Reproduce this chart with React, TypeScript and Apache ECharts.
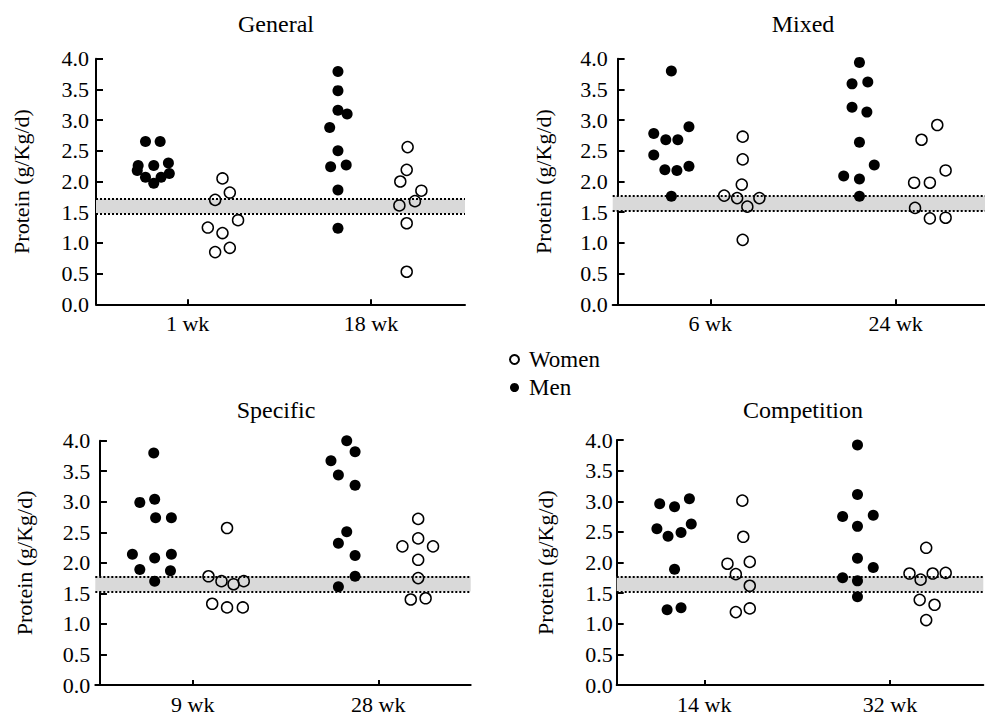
import React, { useEffect, useRef } from 'react';
import * as echarts from 'echarts';

const FONT = 'Liberation Serif';

const panelTitles = ['General', 'Mixed', 'Specific', 'Competition'];
const timeLabels = [
  ['1 wk', '18 wk'],
  ['6 wk', '24 wk'],
  ['9 wk', '28 wk'],
  ['14 wk', '32 wk'],
];
const yAxisName = 'Protein (g/Kg/d)';
const legendNames = ['Women', 'Men'];
const bandLow = [1.48, 1.52, 1.53, 1.53];
const bandHigh = [1.72, 1.76, 1.78, 1.77];

// [x position within the group, protein g/Kg/d]
const generalMen = [
  [0.54, 2.65], [0.70, 2.65], [0.46, 2.26], [0.45, 2.18], [0.63, 2.26], [0.79, 2.30], [0.80, 2.13], [0.54, 2.07], [0.71, 2.07], [0.63, 1.97],
  [2.64, 3.79], [2.64, 3.48], [2.64, 3.16], [2.74, 3.10], [2.55, 2.88], [2.64, 2.50], [2.56, 2.24], [2.73, 2.27], [2.64, 1.86], [2.64, 1.24],
];
const generalWomen = [
  [1.38, 2.05], [1.46, 1.82], [1.30, 1.70], [1.55, 1.37], [1.22, 1.25], [1.38, 1.16], [1.46, 0.92], [1.30, 0.85],
  [3.40, 2.56], [3.39, 2.19], [3.32, 2.00], [3.55, 1.85], [3.48, 1.68], [3.31, 1.61], [3.39, 1.32], [3.39, 0.53],
];
const mixedMen = [
  [0.58, 3.80], [0.39, 2.78], [0.52, 2.68], [0.65, 2.68], [0.77, 2.89], [0.39, 2.43], [0.51, 2.19], [0.64, 2.18], [0.77, 2.25], [0.58, 1.76],
  [2.61, 3.94], [2.53, 3.59], [2.70, 3.62], [2.53, 3.21], [2.69, 3.13], [2.61, 2.64], [2.77, 2.27], [2.44, 2.09], [2.61, 2.04], [2.61, 1.76],
];
const mixedWomen = [
  [1.35, 2.73], [1.35, 2.36], [1.34, 1.95], [1.15, 1.77], [1.29, 1.73], [1.53, 1.73], [1.40, 1.59], [1.35, 1.05],
  [3.45, 2.92], [3.28, 2.68], [3.54, 2.18], [3.20, 1.98], [3.37, 1.98], [3.21, 1.57], [3.37, 1.40], [3.54, 1.41],
];
const specificMen = [
  [0.58, 3.80], [0.43, 2.99], [0.59, 3.04], [0.60, 2.74], [0.77, 2.74], [0.35, 2.14], [0.59, 2.08], [0.77, 2.14], [0.43, 1.89], [0.76, 1.87], [0.59, 1.70],
  [2.66, 4.00], [2.49, 3.67], [2.75, 3.82], [2.57, 3.44], [2.75, 3.27], [2.66, 2.51], [2.57, 2.32], [2.75, 2.12], [2.75, 1.78], [2.57, 1.61],
];
const specificWomen = [
  [1.37, 2.57], [1.17, 1.78], [1.31, 1.70], [1.44, 1.65], [1.55, 1.70], [1.21, 1.33], [1.37, 1.27], [1.54, 1.27],
  [3.43, 2.72], [3.43, 2.40], [3.26, 2.27], [3.59, 2.27], [3.43, 2.05], [3.43, 1.75], [3.35, 1.40], [3.51, 1.42],
];
const competitionMen = [
  [0.52, 2.96], [0.68, 2.91], [0.84, 3.04], [0.49, 2.55], [0.61, 2.43], [0.75, 2.49], [0.86, 2.63], [0.68, 1.89], [0.60, 1.23], [0.75, 1.26],
  [2.65, 3.92], [2.65, 3.11], [2.49, 2.75], [2.82, 2.77], [2.65, 2.59], [2.65, 2.07], [2.82, 1.92], [2.49, 1.75], [2.65, 1.70], [2.65, 1.44],
];
const competitionWomen = [
  [1.41, 3.01], [1.42, 2.42], [1.25, 1.98], [1.49, 2.01], [1.34, 1.81], [1.49, 1.62], [1.34, 1.19], [1.49, 1.25],
  [3.39, 2.24], [3.21, 1.82], [3.33, 1.72], [3.46, 1.82], [3.60, 1.83], [3.32, 1.39], [3.48, 1.31], [3.39, 1.06],
];

const menData = [generalMen, mixedMen, specificMen, competitionMen];
const womenData = [generalWomen, mixedWomen, specificWomen, competitionWomen];
const groupTicks = [1, 3];

const layout = [
  { left: 96, top: 58.7, width: 369, height: 245.6, xMin: 0, xMax: 4.026, titleX: 276, titleY: 23.5, nameGap: 64, labelMargin: 7 },
  { left: 612.7, top: 58.7, width: 372.3, height: 245.6, xMin: -0.053, xMax: 3.965, titleX: 803, titleY: 23.5, nameGap: 58, labelMargin: 5 },
  { left: 95.3, top: 440.7, width: 375.4, height: 245.3, xMin: -0.05, xMax: 3.996, titleX: 276, titleY: 410, nameGap: 60, labelMargin: 5 },
  { left: 616.7, top: 440, width: 366.6, height: 246, xMin: 0.057, xMax: 4.005, titleX: 803, titleY: 410, nameGap: 60, labelMargin: 4 },
];

export default function App() {
  const ref = useRef<HTMLDivElement>(null);
  useEffect(() => {
    if (!ref.current) return;
    const chart = echarts.init(ref.current, undefined, { renderer: 'svg' });
    const axisLine = { show: true, lineStyle: { color: '#000', width: 2 } };
    const grid = layout.map((l) => ({ left: l.left, top: l.top, width: l.width, height: l.height, containLabel: false }));
    const xAxis = layout.map((l, i) => ({
      type: 'value',
      gridIndex: i,
      min: l.xMin,
      max: l.xMax,
      axisLine,
      splitLine: { show: false },
      axisTick: { show: true, inside: true, length: 5, lineStyle: { color: '#000', width: 2 }, customValues: groupTicks },
      axisLabel: {
        show: true,
        margin: 8,
        color: '#000',
        fontFamily: FONT,
        fontSize: 22,
        customValues: groupTicks,
        formatter: (v: number) => {
          const k = groupTicks.indexOf(Math.round(v));
          return k >= 0 ? timeLabels[i][k] : '';
        },
      },
    }));
    const yAxis = layout.map((l, i) => ({
      type: 'value',
      gridIndex: i,
      min: 0,
      max: 4,
      interval: 0.5,
      name: yAxisName,
      nameLocation: 'middle',
      nameGap: l.nameGap,
      nameTextStyle: { color: '#000', fontFamily: FONT, fontSize: 22 },
      axisLine,
      splitLine: { show: false },
      axisTick: { show: true, inside: true, length: 7, lineStyle: { color: '#000', width: 2 } },
      axisLabel: {
        color: '#000',
        fontFamily: FONT,
        fontSize: 22,
        margin: l.labelMargin,
        formatter: (v: number) => v.toFixed(1),
      },
    }));
    const series: any[] = [];
    layout.forEach((_, i) => {
      series.push({
        type: 'scatter',
        name: 'band' + i,
        xAxisIndex: i,
        yAxisIndex: i,
        data: [],
        z: 1,
        silent: true,
        markArea: {
          silent: true,
          itemStyle: { color: '#d9d9d9' },
          data: [[{ yAxis: bandLow[i] }, { yAxis: bandHigh[i] }]],
        },
        markLine: {
          silent: true,
          symbol: ['none', 'none'],
          label: { show: false },
          lineStyle: { color: '#000', type: [2, 2], width: 2 },
          data: [{ yAxis: bandLow[i] }, { yAxis: bandHigh[i] }],
        },
      });
      series.push({
        type: 'scatter',
        name: 'Women',
        xAxisIndex: i,
        yAxisIndex: i,
        symbol: 'circle',
        symbolSize: 11,
        z: 3,
        itemStyle: { color: 'rgba(0,0,0,0)', borderColor: '#000', borderWidth: 1.5, opacity: 1 },
        data: womenData[i],
      });
      series.push({
        type: 'scatter',
        name: 'Men',
        xAxisIndex: i,
        yAxisIndex: i,
        symbol: 'circle',
        symbolSize: 11,
        z: 3,
        itemStyle: { color: '#000', opacity: 1 },
        data: menData[i],
      });
    });
    chart.setOption({
      animation: false,
      backgroundColor: '#fff',
      grid,
      xAxis,
      yAxis,
      series,
      legend: {
        data: legendNames,
        orient: 'vertical',
        left: 504,
        top: 343,
        itemWidth: 9,
        itemHeight: 9,
        itemGap: 5,
        selectedMode: false,
        icon: 'circle',
        textStyle: { color: '#000', fontFamily: FONT, fontSize: 23, lineHeight: 23, padding: [0, 0, 0, 5] },
      },
      graphic: panelTitles.map((t, i) => ({
        type: 'text',
        x: layout[i].titleX,
        y: layout[i].titleY,
        style: {
          text: t,
          fill: '#000',
          fontFamily: FONT,
          fontSize: 24,
          align: 'center',
          verticalAlign: 'middle',
        },
      })),
    });
    return () => chart.dispose();
  }, []);
  return <div ref={ref} style={{ position: 'absolute', left: 0, top: 0, width: 985, height: 715 }} />;
}
